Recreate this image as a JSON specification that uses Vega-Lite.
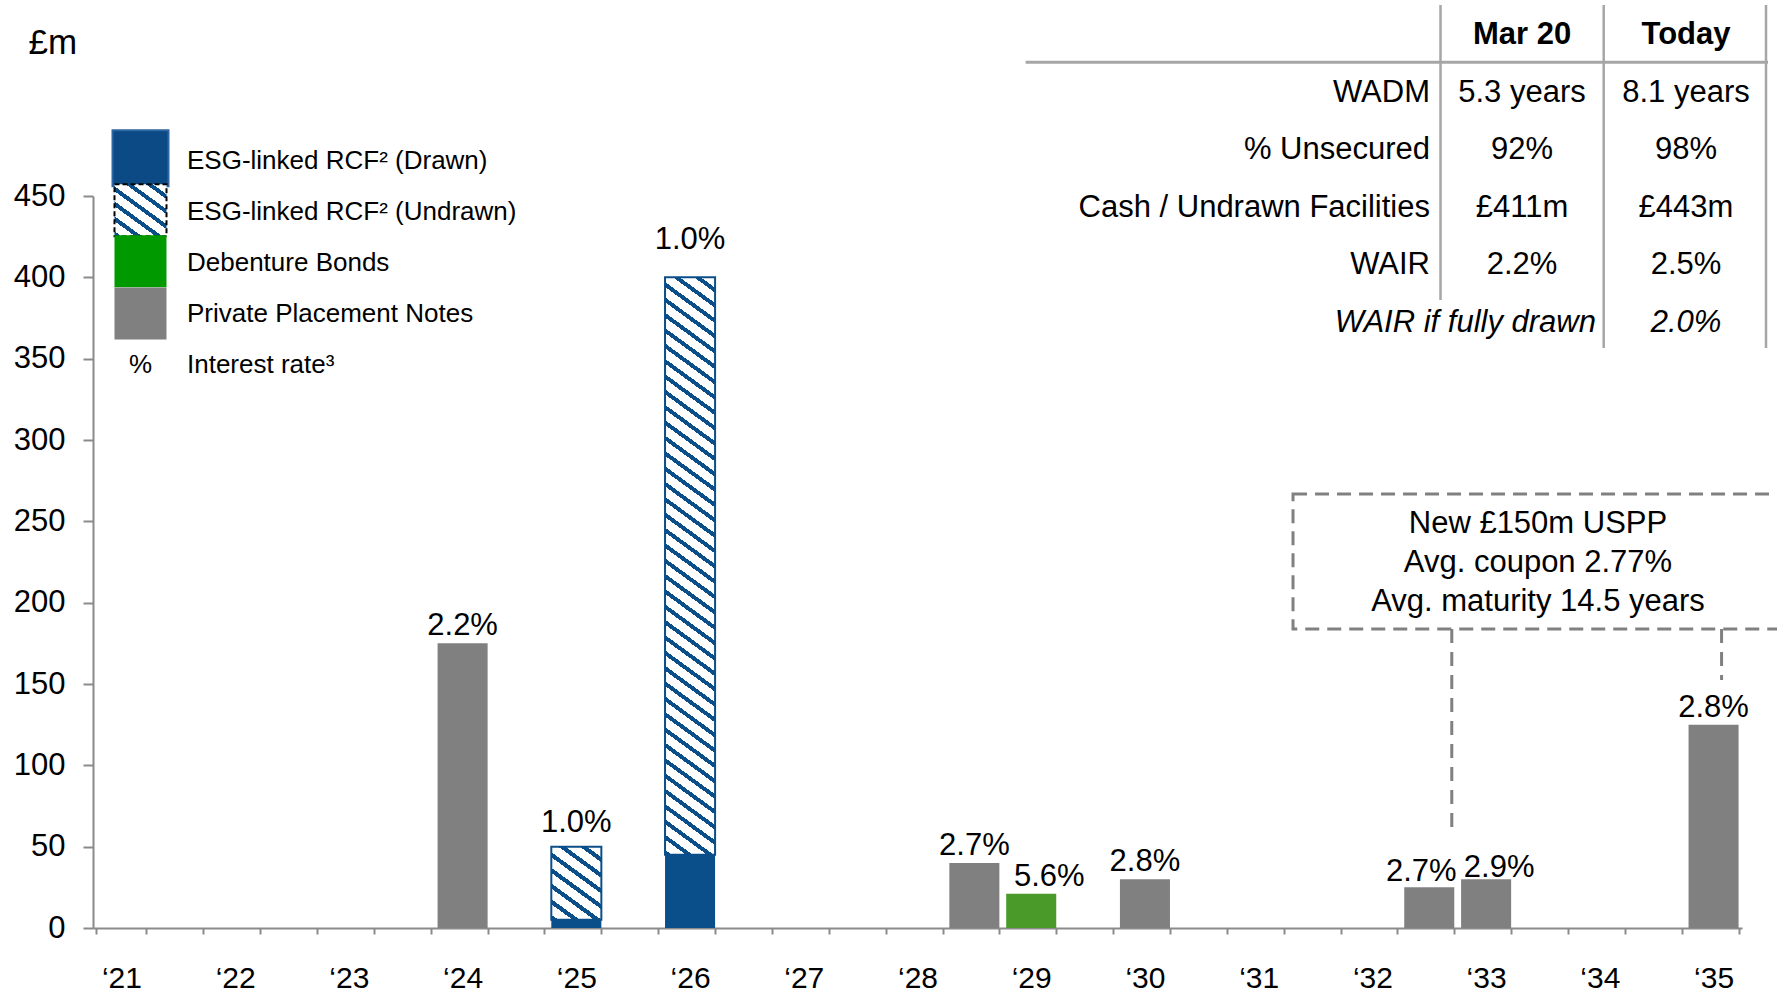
{
"$schema": "https://vega.github.io/schema/vega-lite/v6.json",
"width": 1649,
"height": 732,
"autosize": {"type": "none"},
"padding": {"left": 93, "top": 196, "right": 35, "bottom": 66},
"background": "#ffffff",
"config": {"view": {"stroke": null}, "font": "Liberation Sans", "axis": {"grid": false}},
"datasets": {
"bars": [
{"period": "2024-1", "series": "Private Placement Notes", "amount": 175, "rate": "2.2%"},
{"period": "2025-1", "series": "ESG-linked RCF² (Drawn)", "amount": 5, "rate": "1.0%"},
{"period": "2025-1", "series": "ESG-linked RCF² (Undrawn)", "amount": 45, "rate": "1.0%"},
{"period": "2026-1", "series": "ESG-linked RCF² (Drawn)", "amount": 45, "rate": "1.0%"},
{"period": "2026-1", "series": "ESG-linked RCF² (Undrawn)", "amount": 355, "rate": "1.0%"},
{"period": "2028-2", "series": "Private Placement Notes", "amount": 40, "rate": "2.7%"},
{"period": "2029-1", "series": "Debenture Bonds", "amount": 21, "rate": "5.6%"},
{"period": "2030-1", "series": "Private Placement Notes", "amount": 30, "rate": "2.8%"},
{"period": "2032-2", "series": "Private Placement Notes", "amount": 25, "rate": "2.7%"},
{"period": "2033-1", "series": "Private Placement Notes", "amount": 30, "rate": "2.9%"},
{"period": "2035-1", "series": "Private Placement Notes", "amount": 125, "rate": "2.8%"}
]
},
"layer": [
{
"data": {"name": "bars"},
"transform": [{"filter": "datum.series !== 'ESG-linked RCF² (Undrawn)'"}],
"mark": {"type": "bar"},
"encoding": {
"x": {"field": "period", "type": "ordinal",
"scale": {"domain": ["2021-1","2021-2","2022-1","2022-2","2023-1","2023-2","2024-1","2024-2","2025-1","2025-2","2026-1","2026-2","2027-1","2027-2","2028-1","2028-2","2029-1","2029-2","2030-1","2030-2","2031-1","2031-2","2032-1","2032-2","2033-1","2033-2","2034-1","2034-2","2035-1"], "paddingInner": 0.12, "paddingOuter": 0.06},
"axis": {"title": null, "labelExpr": "isString(datum.value) && slice(datum.value, 5) === '1' ? '‘' + slice(datum.value, 2, 4) : ''", "tickBand": "extent", "labelAngle": 0, "labelFont": "Liberation Sans", "labelFontSize": 30, "labelColor": "#000000", "labelPadding": 29, "tickSize": 6, "tickColor": "#8A8A8A", "tickWidth": 2, "domainColor": "#8A8A8A", "domainWidth": 2, "labelOverlap": false, "grid": false}},
"y": {"field": "amount", "type": "quantitative", "stack": null,
"scale": {"domain": [0, 450], "nice": false, "zero": true},
"axis": {"title": "£m", "titleAngle": 0, "titleAlign": "left", "titleBaseline": "middle", "titleX": -65, "titleY": -154, "titleFont": "Liberation Sans", "titleFontSize": 35, "titleFontWeight": "normal", "titleColor": "#000000", "values": [0, 50, 100, 150, 200, 250, 300, 350, 400, 450], "labelFont": "Liberation Sans", "labelFontSize": 31, "labelColor": "#000000", "labelPadding": 18, "tickSize": 10, "tickColor": "#8A8A8A", "tickWidth": 2, "domainColor": "#8A8A8A", "domainWidth": 2, "grid": false}},
"color": {"field": "series", "type": "nominal",
"scale": {"domain": ["ESG-linked RCF² (Drawn)", "ESG-linked RCF² (Undrawn)", "Debenture Bonds", "Private Placement Notes"], "range": ["#0B4F8A", "#FFFFFF", "#4A9A2A", "#808080"]},
"legend": null}
}
},
{
"data": {"name": "bars"},
"transform": [
{"stack": "amount", "groupby": ["period"], "sort": [{"field": "series", "order": "ascending"}], "as": ["s0", "s1"]},
{"filter": "datum.series === 'ESG-linked RCF² (Undrawn)' && datum.period === '2025-1'"}
],
"mark": {"type": "bar", "stroke": "#0B4F8A", "strokeWidth": 2,
"fill": {"gradient": "linear", "x1": 0, "y1": 1, "x2": 0.598, "y2": -0.2, "stops": [
{"offset": 0, "color": "#0B4F8A"}, {"offset": 0.047, "color": "#0B4F8A"}, {"offset": 0.047, "color": "#FFFFFF"}, {"offset": 0.143, "color": "#FFFFFF"},
{"offset": 0.143, "color": "#0B4F8A"}, {"offset": 0.19, "color": "#0B4F8A"}, {"offset": 0.19, "color": "#FFFFFF"}, {"offset": 0.286, "color": "#FFFFFF"},
{"offset": 0.286, "color": "#0B4F8A"}, {"offset": 0.333, "color": "#0B4F8A"}, {"offset": 0.333, "color": "#FFFFFF"}, {"offset": 0.429, "color": "#FFFFFF"},
{"offset": 0.429, "color": "#0B4F8A"}, {"offset": 0.476, "color": "#0B4F8A"}, {"offset": 0.476, "color": "#FFFFFF"}, {"offset": 0.571, "color": "#FFFFFF"},
{"offset": 0.571, "color": "#0B4F8A"}, {"offset": 0.618, "color": "#0B4F8A"}, {"offset": 0.618, "color": "#FFFFFF"}, {"offset": 0.714, "color": "#FFFFFF"},
{"offset": 0.714, "color": "#0B4F8A"}, {"offset": 0.761, "color": "#0B4F8A"}, {"offset": 0.761, "color": "#FFFFFF"}, {"offset": 0.857, "color": "#FFFFFF"},
{"offset": 0.857, "color": "#0B4F8A"}, {"offset": 0.904, "color": "#0B4F8A"}, {"offset": 0.904, "color": "#FFFFFF"}, {"offset": 1, "color": "#FFFFFF"}
]}},
"encoding": {
"x": {"field": "period", "type": "ordinal"},
"y": {"field": "s1", "type": "quantitative"},
"y2": {"field": "s0"}
}
},
{
"data": {"name": "bars"},
"transform": [
{"stack": "amount", "groupby": ["period"], "sort": [{"field": "series", "order": "ascending"}], "as": ["s0", "s1"]},
{"filter": "datum.series === 'ESG-linked RCF² (Undrawn)' && datum.period === '2026-1'"}
],
"mark": {"type": "bar", "stroke": "#0B4F8A", "strokeWidth": 2,
"fill": {"gradient": "linear", "x1": 0, "y1": 1, "x2": 0.0669, "y2": -0.059, "stops": [
{"offset": 0, "color": "#0B4F8A"}, {"offset": 0.008, "color": "#0B4F8A"}, {"offset": 0.008, "color": "#FFFFFF"}, {"offset": 0.025, "color": "#FFFFFF"},
{"offset": 0.025, "color": "#0B4F8A"}, {"offset": 0.033, "color": "#0B4F8A"}, {"offset": 0.033, "color": "#FFFFFF"}, {"offset": 0.05, "color": "#FFFFFF"},
{"offset": 0.05, "color": "#0B4F8A"}, {"offset": 0.058, "color": "#0B4F8A"}, {"offset": 0.058, "color": "#FFFFFF"}, {"offset": 0.075, "color": "#FFFFFF"},
{"offset": 0.075, "color": "#0B4F8A"}, {"offset": 0.083, "color": "#0B4F8A"}, {"offset": 0.083, "color": "#FFFFFF"}, {"offset": 0.1, "color": "#FFFFFF"},
{"offset": 0.1, "color": "#0B4F8A"}, {"offset": 0.108, "color": "#0B4F8A"}, {"offset": 0.108, "color": "#FFFFFF"}, {"offset": 0.125, "color": "#FFFFFF"},
{"offset": 0.125, "color": "#0B4F8A"}, {"offset": 0.133, "color": "#0B4F8A"}, {"offset": 0.133, "color": "#FFFFFF"}, {"offset": 0.15, "color": "#FFFFFF"},
{"offset": 0.15, "color": "#0B4F8A"}, {"offset": 0.158, "color": "#0B4F8A"}, {"offset": 0.158, "color": "#FFFFFF"}, {"offset": 0.175, "color": "#FFFFFF"},
{"offset": 0.175, "color": "#0B4F8A"}, {"offset": 0.183, "color": "#0B4F8A"}, {"offset": 0.183, "color": "#FFFFFF"}, {"offset": 0.2, "color": "#FFFFFF"},
{"offset": 0.2, "color": "#0B4F8A"}, {"offset": 0.208, "color": "#0B4F8A"}, {"offset": 0.208, "color": "#FFFFFF"}, {"offset": 0.225, "color": "#FFFFFF"},
{"offset": 0.225, "color": "#0B4F8A"}, {"offset": 0.233, "color": "#0B4F8A"}, {"offset": 0.233, "color": "#FFFFFF"}, {"offset": 0.25, "color": "#FFFFFF"},
{"offset": 0.25, "color": "#0B4F8A"}, {"offset": 0.258, "color": "#0B4F8A"}, {"offset": 0.258, "color": "#FFFFFF"}, {"offset": 0.275, "color": "#FFFFFF"},
{"offset": 0.275, "color": "#0B4F8A"}, {"offset": 0.283, "color": "#0B4F8A"}, {"offset": 0.283, "color": "#FFFFFF"}, {"offset": 0.3, "color": "#FFFFFF"},
{"offset": 0.3, "color": "#0B4F8A"}, {"offset": 0.308, "color": "#0B4F8A"}, {"offset": 0.308, "color": "#FFFFFF"}, {"offset": 0.325, "color": "#FFFFFF"},
{"offset": 0.325, "color": "#0B4F8A"}, {"offset": 0.333, "color": "#0B4F8A"}, {"offset": 0.333, "color": "#FFFFFF"}, {"offset": 0.35, "color": "#FFFFFF"},
{"offset": 0.35, "color": "#0B4F8A"}, {"offset": 0.358, "color": "#0B4F8A"}, {"offset": 0.358, "color": "#FFFFFF"}, {"offset": 0.375, "color": "#FFFFFF"},
{"offset": 0.375, "color": "#0B4F8A"}, {"offset": 0.383, "color": "#0B4F8A"}, {"offset": 0.383, "color": "#FFFFFF"}, {"offset": 0.4, "color": "#FFFFFF"},
{"offset": 0.4, "color": "#0B4F8A"}, {"offset": 0.408, "color": "#0B4F8A"}, {"offset": 0.408, "color": "#FFFFFF"}, {"offset": 0.425, "color": "#FFFFFF"},
{"offset": 0.425, "color": "#0B4F8A"}, {"offset": 0.433, "color": "#0B4F8A"}, {"offset": 0.433, "color": "#FFFFFF"}, {"offset": 0.45, "color": "#FFFFFF"},
{"offset": 0.45, "color": "#0B4F8A"}, {"offset": 0.458, "color": "#0B4F8A"}, {"offset": 0.458, "color": "#FFFFFF"}, {"offset": 0.475, "color": "#FFFFFF"},
{"offset": 0.475, "color": "#0B4F8A"}, {"offset": 0.483, "color": "#0B4F8A"}, {"offset": 0.483, "color": "#FFFFFF"}, {"offset": 0.5, "color": "#FFFFFF"},
{"offset": 0.5, "color": "#0B4F8A"}, {"offset": 0.508, "color": "#0B4F8A"}, {"offset": 0.508, "color": "#FFFFFF"}, {"offset": 0.525, "color": "#FFFFFF"},
{"offset": 0.525, "color": "#0B4F8A"}, {"offset": 0.533, "color": "#0B4F8A"}, {"offset": 0.533, "color": "#FFFFFF"}, {"offset": 0.55, "color": "#FFFFFF"},
{"offset": 0.55, "color": "#0B4F8A"}, {"offset": 0.558, "color": "#0B4F8A"}, {"offset": 0.558, "color": "#FFFFFF"}, {"offset": 0.575, "color": "#FFFFFF"},
{"offset": 0.575, "color": "#0B4F8A"}, {"offset": 0.583, "color": "#0B4F8A"}, {"offset": 0.583, "color": "#FFFFFF"}, {"offset": 0.6, "color": "#FFFFFF"},
{"offset": 0.6, "color": "#0B4F8A"}, {"offset": 0.608, "color": "#0B4F8A"}, {"offset": 0.608, "color": "#FFFFFF"}, {"offset": 0.625, "color": "#FFFFFF"},
{"offset": 0.625, "color": "#0B4F8A"}, {"offset": 0.633, "color": "#0B4F8A"}, {"offset": 0.633, "color": "#FFFFFF"}, {"offset": 0.65, "color": "#FFFFFF"},
{"offset": 0.65, "color": "#0B4F8A"}, {"offset": 0.658, "color": "#0B4F8A"}, {"offset": 0.658, "color": "#FFFFFF"}, {"offset": 0.675, "color": "#FFFFFF"},
{"offset": 0.675, "color": "#0B4F8A"}, {"offset": 0.683, "color": "#0B4F8A"}, {"offset": 0.683, "color": "#FFFFFF"}, {"offset": 0.7, "color": "#FFFFFF"},
{"offset": 0.7, "color": "#0B4F8A"}, {"offset": 0.708, "color": "#0B4F8A"}, {"offset": 0.708, "color": "#FFFFFF"}, {"offset": 0.725, "color": "#FFFFFF"},
{"offset": 0.725, "color": "#0B4F8A"}, {"offset": 0.733, "color": "#0B4F8A"}, {"offset": 0.733, "color": "#FFFFFF"}, {"offset": 0.75, "color": "#FFFFFF"},
{"offset": 0.75, "color": "#0B4F8A"}, {"offset": 0.758, "color": "#0B4F8A"}, {"offset": 0.758, "color": "#FFFFFF"}, {"offset": 0.775, "color": "#FFFFFF"},
{"offset": 0.775, "color": "#0B4F8A"}, {"offset": 0.783, "color": "#0B4F8A"}, {"offset": 0.783, "color": "#FFFFFF"}, {"offset": 0.8, "color": "#FFFFFF"},
{"offset": 0.8, "color": "#0B4F8A"}, {"offset": 0.808, "color": "#0B4F8A"}, {"offset": 0.808, "color": "#FFFFFF"}, {"offset": 0.825, "color": "#FFFFFF"},
{"offset": 0.825, "color": "#0B4F8A"}, {"offset": 0.833, "color": "#0B4F8A"}, {"offset": 0.833, "color": "#FFFFFF"}, {"offset": 0.85, "color": "#FFFFFF"},
{"offset": 0.85, "color": "#0B4F8A"}, {"offset": 0.858, "color": "#0B4F8A"}, {"offset": 0.858, "color": "#FFFFFF"}, {"offset": 0.875, "color": "#FFFFFF"},
{"offset": 0.875, "color": "#0B4F8A"}, {"offset": 0.883, "color": "#0B4F8A"}, {"offset": 0.883, "color": "#FFFFFF"}, {"offset": 0.9, "color": "#FFFFFF"},
{"offset": 0.9, "color": "#0B4F8A"}, {"offset": 0.908, "color": "#0B4F8A"}, {"offset": 0.908, "color": "#FFFFFF"}, {"offset": 0.925, "color": "#FFFFFF"},
{"offset": 0.925, "color": "#0B4F8A"}, {"offset": 0.933, "color": "#0B4F8A"}, {"offset": 0.933, "color": "#FFFFFF"}, {"offset": 0.95, "color": "#FFFFFF"},
{"offset": 0.95, "color": "#0B4F8A"}, {"offset": 0.958, "color": "#0B4F8A"}, {"offset": 0.958, "color": "#FFFFFF"}, {"offset": 0.975, "color": "#FFFFFF"},
{"offset": 0.975, "color": "#0B4F8A"}, {"offset": 0.983, "color": "#0B4F8A"}, {"offset": 0.983, "color": "#FFFFFF"}, {"offset": 1, "color": "#FFFFFF"}
]}},
"encoding": {
"x": {"field": "period", "type": "ordinal"},
"y": {"field": "s1", "type": "quantitative"},
"y2": {"field": "s0"}
}
},
{
"data": {"name": "bars"},
"transform": [
{"aggregate": [{"op": "sum", "field": "amount", "as": "total"}], "groupby": ["period", "rate"]},
{"filter": "datum.period !== '2025-1' && datum.period !== '2026-1' && datum.period !== '2029-1' && datum.period !== '2032-2' && datum.period !== '2033-1'"}
],
"mark": {"type": "text", "font": "Liberation Sans", "fontSize": 31, "color": "#000000", "align": "center", "baseline": "alphabetic", "dy": -8},
"encoding": {"x": {"field": "period", "type": "ordinal"}, "y": {"field": "total", "type": "quantitative"}, "text": {"field": "rate", "type": "nominal"}}
},
{
"data": {"name": "bars"},
"transform": [
{"aggregate": [{"op": "sum", "field": "amount", "as": "total"}], "groupby": ["period", "rate"]},
{"filter": "datum.period === '2026-1'"}
],
"mark": {"type": "text", "font": "Liberation Sans", "fontSize": 31, "color": "#000000", "align": "center", "baseline": "alphabetic", "dy": -28},
"encoding": {"x": {"field": "period", "type": "ordinal"}, "y": {"field": "total", "type": "quantitative"}, "text": {"field": "rate", "type": "nominal"}}
},
{
"data": {"name": "bars"},
"transform": [
{"aggregate": [{"op": "sum", "field": "amount", "as": "total"}], "groupby": ["period", "rate"]},
{"filter": "datum.period === '2025-1'"}
],
"mark": {"type": "text", "font": "Liberation Sans", "fontSize": 31, "color": "#000000", "align": "center", "baseline": "alphabetic", "dy": -15},
"encoding": {"x": {"field": "period", "type": "ordinal"}, "y": {"field": "total", "type": "quantitative"}, "text": {"field": "rate", "type": "nominal"}}
},
{
"data": {"name": "bars"},
"transform": [
{"aggregate": [{"op": "sum", "field": "amount", "as": "total"}], "groupby": ["period", "rate"]},
{"filter": "datum.period === '2029-1'"}
],
"mark": {"type": "text", "font": "Liberation Sans", "fontSize": 31, "color": "#000000", "align": "center", "baseline": "alphabetic", "dx": 18, "dy": -8},
"encoding": {"x": {"field": "period", "type": "ordinal"}, "y": {"field": "total", "type": "quantitative"}, "text": {"field": "rate", "type": "nominal"}}
},
{
"data": {"name": "bars"},
"transform": [
{"aggregate": [{"op": "sum", "field": "amount", "as": "total"}], "groupby": ["period", "rate"]},
{"filter": "datum.period === '2032-2'"}
],
"mark": {"type": "text", "font": "Liberation Sans", "fontSize": 31, "color": "#000000", "align": "center", "baseline": "alphabetic", "dx": -8, "dy": -6},
"encoding": {"x": {"field": "period", "type": "ordinal"}, "y": {"field": "total", "type": "quantitative"}, "text": {"field": "rate", "type": "nominal"}}
},
{
"data": {"name": "bars"},
"transform": [
{"aggregate": [{"op": "sum", "field": "amount", "as": "total"}], "groupby": ["period", "rate"]},
{"filter": "datum.period === '2033-1'"}
],
"mark": {"type": "text", "font": "Liberation Sans", "fontSize": 31, "color": "#000000", "align": "center", "baseline": "alphabetic", "dx": 13, "dy": -2},
"encoding": {"x": {"field": "period", "type": "ordinal"}, "y": {"field": "total", "type": "quantitative"}, "text": {"field": "rate", "type": "nominal"}}
},
{
"data": {"values": [{}]},
"mark": {"type": "rect", "filled": false, "stroke": "#808080", "strokeWidth": 3, "strokeDash": [14, 8]},
"encoding": {
"x": {"datum": "2031-2", "type": "ordinal", "bandPosition": 0.05},
"x2": {"datum": "2035-1", "bandPosition": 2},
"y": {"datum": 266.8, "type": "quantitative"},
"y2": {"datum": 183.8}
}
},
{
"data": {"values": [{}]},
"mark": {"type": "rule", "stroke": "#808080", "strokeWidth": 3, "strokeDash": [14, 9]},
"encoding": {
"x": {"datum": "2032-2", "type": "ordinal", "bandPosition": 0.95},
"y": {"datum": 183.8, "type": "quantitative"},
"y2": {"datum": 58.4}
}
},
{
"data": {"values": [{}]},
"mark": {"type": "rule", "stroke": "#808080", "strokeWidth": 3, "strokeDash": [14, 9]},
"encoding": {
"x": {"datum": "2035-1", "type": "ordinal", "bandPosition": 0.66},
"y": {"datum": 183.8, "type": "quantitative"},
"y2": {"datum": 152.5}
}
},
{
"data": {"values": [{}]},
"mark": {"type": "text", "text": "New £150m USPP", "font": "Liberation Sans", "fontSize": 31, "color": "#000000", "align": "center", "baseline": "middle"},
"encoding": {"x": {"datum": "2033-2", "type": "ordinal", "bandPosition": 0.4}, "y": {"datum": 248.4, "type": "quantitative"}}
},
{
"data": {"values": [{}]},
"mark": {"type": "text", "text": "Avg. coupon 2.77%", "font": "Liberation Sans", "fontSize": 31, "color": "#000000", "align": "center", "baseline": "middle"},
"encoding": {"x": {"datum": "2033-2", "type": "ordinal", "bandPosition": 0.4}, "y": {"datum": 224.4, "type": "quantitative"}}
},
{
"data": {"values": [{}]},
"mark": {"type": "text", "text": "Avg. maturity 14.5 years", "font": "Liberation Sans", "fontSize": 31, "color": "#000000", "align": "center", "baseline": "middle"},
"encoding": {"x": {"datum": "2033-2", "type": "ordinal", "bandPosition": 0.4}, "y": {"datum": 200.4, "type": "quantitative"}}
},
{
"data": {"values": [{}]},
"mark": {"type": "rule", "stroke": "#A6A6A6", "strokeWidth": 3},
"encoding": {
"x": {"datum": "2029-1", "type": "ordinal", "bandPosition": 0.388},
"x2": {"datum": "2035-1", "bandPosition": 1.588},
"y": {"datum": 532.2, "type": "quantitative"}
}
},
{
"data": {"values": [{}]},
"mark": {"type": "rule", "stroke": "#A6A6A6", "strokeWidth": 2.5},
"encoding": {
"x": {"datum": "2032-2", "type": "ordinal", "bandPosition": 0.7246},
"y": {"datum": 567.4, "type": "quantitative"},
"y2": {"datum": 386.1}
}
},
{
"data": {"values": [{}]},
"mark": {"type": "rule", "stroke": "#A6A6A6", "strokeWidth": 2.5},
"encoding": {
"x": {"datum": "2034-1", "type": "ordinal", "bandPosition": 0.577},
"y": {"datum": 567.4, "type": "quantitative"},
"y2": {"datum": 356.5}
}
},
{
"data": {"values": [{}]},
"mark": {"type": "rule", "stroke": "#A6A6A6", "strokeWidth": 2.5},
"encoding": {
"x": {"datum": "2035-1", "type": "ordinal", "bandPosition": 1.548},
"y": {"datum": 567.4, "type": "quantitative"},
"y2": {"datum": 356.5}
}
},
{
"data": {"values": [{}]},
"mark": {"type": "text", "text": "Mar 20", "font": "Liberation Sans", "fontSize": 31, "fontWeight": "bold", "color": "#000000", "align": "center", "baseline": "middle"},
"encoding": {"x": {"datum": "2033-2", "type": "ordinal", "bandPosition": 0.081}, "y": {"datum": 548.9, "type": "quantitative"}}
},
{
"data": {"values": [{}]},
"mark": {"type": "text", "text": "Today", "font": "Liberation Sans", "fontSize": 31, "fontWeight": "bold", "color": "#000000", "align": "center", "baseline": "middle"},
"encoding": {"x": {"datum": "2034-2", "type": "ordinal", "bandPosition": 1.0855}, "y": {"datum": 548.9, "type": "quantitative"}}
},
{
"data": {"values": [{}]},
"mark": {"type": "text", "text": "WADM", "font": "Liberation Sans", "fontSize": 31, "color": "#000000", "align": "right", "baseline": "middle"},
"encoding": {"x": {"datum": "2032-2", "type": "ordinal", "bandPosition": 0.515}, "y": {"datum": 513.5, "type": "quantitative"}}
},
{
"data": {"values": [{}]},
"mark": {"type": "text", "text": "% Unsecured", "font": "Liberation Sans", "fontSize": 31, "color": "#000000", "align": "right", "baseline": "middle"},
"encoding": {"x": {"datum": "2032-2", "type": "ordinal", "bandPosition": 0.515}, "y": {"datum": 478.1, "type": "quantitative"}}
},
{
"data": {"values": [{}]},
"mark": {"type": "text", "text": "Cash / Undrawn Facilities", "font": "Liberation Sans", "fontSize": 31, "color": "#000000", "align": "right", "baseline": "middle"},
"encoding": {"x": {"datum": "2032-2", "type": "ordinal", "bandPosition": 0.515}, "y": {"datum": 442.7, "type": "quantitative"}}
},
{
"data": {"values": [{}]},
"mark": {"type": "text", "text": "WAIR", "font": "Liberation Sans", "fontSize": 31, "color": "#000000", "align": "right", "baseline": "middle"},
"encoding": {"x": {"datum": "2032-2", "type": "ordinal", "bandPosition": 0.515}, "y": {"datum": 407.3, "type": "quantitative"}}
},
{
"data": {"values": [{}]},
"mark": {"type": "text", "text": "5.3 years", "font": "Liberation Sans", "fontSize": 31, "color": "#000000", "align": "center", "baseline": "middle"},
"encoding": {"x": {"datum": "2033-2", "type": "ordinal", "bandPosition": 0.081}, "y": {"datum": 513.5, "type": "quantitative"}}
},
{
"data": {"values": [{}]},
"mark": {"type": "text", "text": "92%", "font": "Liberation Sans", "fontSize": 31, "color": "#000000", "align": "center", "baseline": "middle"},
"encoding": {"x": {"datum": "2033-2", "type": "ordinal", "bandPosition": 0.081}, "y": {"datum": 478.1, "type": "quantitative"}}
},
{
"data": {"values": [{}]},
"mark": {"type": "text", "text": "£411m", "font": "Liberation Sans", "fontSize": 31, "color": "#000000", "align": "center", "baseline": "middle"},
"encoding": {"x": {"datum": "2033-2", "type": "ordinal", "bandPosition": 0.081}, "y": {"datum": 442.7, "type": "quantitative"}}
},
{
"data": {"values": [{}]},
"mark": {"type": "text", "text": "2.2%", "font": "Liberation Sans", "fontSize": 31, "color": "#000000", "align": "center", "baseline": "middle"},
"encoding": {"x": {"datum": "2033-2", "type": "ordinal", "bandPosition": 0.081}, "y": {"datum": 407.3, "type": "quantitative"}}
},
{
"data": {"values": [{}]},
"mark": {"type": "text", "text": "8.1 years", "font": "Liberation Sans", "fontSize": 31, "color": "#000000", "align": "center", "baseline": "middle"},
"encoding": {"x": {"datum": "2034-2", "type": "ordinal", "bandPosition": 1.0855}, "y": {"datum": 513.5, "type": "quantitative"}}
},
{
"data": {"values": [{}]},
"mark": {"type": "text", "text": "98%", "font": "Liberation Sans", "fontSize": 31, "color": "#000000", "align": "center", "baseline": "middle"},
"encoding": {"x": {"datum": "2034-2", "type": "ordinal", "bandPosition": 1.0855}, "y": {"datum": 478.1, "type": "quantitative"}}
},
{
"data": {"values": [{}]},
"mark": {"type": "text", "text": "£443m", "font": "Liberation Sans", "fontSize": 31, "color": "#000000", "align": "center", "baseline": "middle"},
"encoding": {"x": {"datum": "2034-2", "type": "ordinal", "bandPosition": 1.0855}, "y": {"datum": 442.7, "type": "quantitative"}}
},
{
"data": {"values": [{}]},
"mark": {"type": "text", "text": "2.5%", "font": "Liberation Sans", "fontSize": 31, "color": "#000000", "align": "center", "baseline": "middle"},
"encoding": {"x": {"datum": "2034-2", "type": "ordinal", "bandPosition": 1.0855}, "y": {"datum": 407.3, "type": "quantitative"}}
},
{
"data": {"values": [{}]},
"mark": {"type": "text", "text": "WAIR if fully drawn", "font": "Liberation Sans", "fontSize": 31, "fontStyle": "italic", "color": "#000000", "align": "right", "baseline": "middle"},
"encoding": {"x": {"datum": "2034-1", "type": "ordinal", "bandPosition": 0.423}, "y": {"datum": 371.9, "type": "quantitative"}}
},
{
"data": {"values": [{}]},
"mark": {"type": "text", "text": "2.0%", "font": "Liberation Sans", "fontSize": 31, "fontStyle": "italic", "color": "#000000", "align": "center", "baseline": "middle"},
"encoding": {"x": {"datum": "2034-2", "type": "ordinal", "bandPosition": 1.0855}, "y": {"datum": 371.9, "type": "quantitative"}}
},
{
"data": {"values": [{}]},
"mark": {"type": "square", "size": 3136, "fill": "#0B4A84", "stroke": "#2E66A3", "strokeWidth": 2, "opacity": 1},
"encoding": {"x": {"datum": "2021-1", "type": "ordinal", "bandPosition": 0.881}, "y": {"datum": 473.2, "type": "quantitative"}}
},
{
"data": {"values": [{}]},
"mark": {"type": "square", "size": 2704, "opacity": 1, "stroke": "#000000", "strokeWidth": 2, "strokeDash": [5, 3],
"fill": {"gradient": "linear", "x1": 0, "y1": 1, "x2": 0.823, "y2": -0.128, "stops": [
{"offset": 0, "color": "#0B4F8A"}, {"offset": 0.055, "color": "#0B4F8A"}, {"offset": 0.055, "color": "#FFFFFF"}, {"offset": 0.167, "color": "#FFFFFF"},
{"offset": 0.167, "color": "#0B4F8A"}, {"offset": 0.222, "color": "#0B4F8A"}, {"offset": 0.222, "color": "#FFFFFF"}, {"offset": 0.333, "color": "#FFFFFF"},
{"offset": 0.333, "color": "#0B4F8A"}, {"offset": 0.388, "color": "#0B4F8A"}, {"offset": 0.388, "color": "#FFFFFF"}, {"offset": 0.5, "color": "#FFFFFF"},
{"offset": 0.5, "color": "#0B4F8A"}, {"offset": 0.555, "color": "#0B4F8A"}, {"offset": 0.555, "color": "#FFFFFF"}, {"offset": 0.667, "color": "#FFFFFF"},
{"offset": 0.667, "color": "#0B4F8A"}, {"offset": 0.722, "color": "#0B4F8A"}, {"offset": 0.722, "color": "#FFFFFF"}, {"offset": 0.833, "color": "#FFFFFF"},
{"offset": 0.833, "color": "#0B4F8A"}, {"offset": 0.888, "color": "#0B4F8A"}, {"offset": 0.888, "color": "#FFFFFF"}, {"offset": 1, "color": "#FFFFFF"}
]}},
"encoding": {"x": {"datum": "2021-1", "type": "ordinal", "bandPosition": 0.881}, "y": {"datum": 441.3, "type": "quantitative"}}
},
{
"data": {"values": [{}]},
"mark": {"type": "square", "size": 2704, "fill": "#009A00", "opacity": 1},
"encoding": {"x": {"datum": "2021-1", "type": "ordinal", "bandPosition": 0.881}, "y": {"datum": 409.9, "type": "quantitative"}}
},
{
"data": {"values": [{}]},
"mark": {"type": "square", "size": 2704, "fill": "#808080", "opacity": 1},
"encoding": {"x": {"datum": "2021-1", "type": "ordinal", "bandPosition": 0.881}, "y": {"datum": 377.8, "type": "quantitative"}}
},
{
"data": {"values": [{}]},
"mark": {"type": "text", "text": "%", "font": "Liberation Sans", "fontSize": 26, "color": "#000000", "align": "center", "baseline": "middle"},
"encoding": {"x": {"datum": "2021-1", "type": "ordinal", "bandPosition": 0.881}, "y": {"datum": 346.1, "type": "quantitative"}}
},
{
"data": {"values": [{}]},
"mark": {"type": "text", "text": "ESG-linked RCF² (Drawn)", "font": "Liberation Sans", "fontSize": 26, "color": "#000000", "align": "left", "baseline": "middle"},
"encoding": {"x": {"datum": "2021-2", "type": "ordinal", "bandPosition": 0.674}, "y": {"datum": 471.6, "type": "quantitative"}}
},
{
"data": {"values": [{}]},
"mark": {"type": "text", "text": "ESG-linked RCF² (Undrawn)", "font": "Liberation Sans", "fontSize": 26, "color": "#000000", "align": "left", "baseline": "middle"},
"encoding": {"x": {"datum": "2021-2", "type": "ordinal", "bandPosition": 0.674}, "y": {"datum": 440.2, "type": "quantitative"}}
},
{
"data": {"values": [{}]},
"mark": {"type": "text", "text": "Debenture Bonds", "font": "Liberation Sans", "fontSize": 26, "color": "#000000", "align": "left", "baseline": "middle"},
"encoding": {"x": {"datum": "2021-2", "type": "ordinal", "bandPosition": 0.674}, "y": {"datum": 408.8, "type": "quantitative"}}
},
{
"data": {"values": [{}]},
"mark": {"type": "text", "text": "Private Placement Notes", "font": "Liberation Sans", "fontSize": 26, "color": "#000000", "align": "left", "baseline": "middle"},
"encoding": {"x": {"datum": "2021-2", "type": "ordinal", "bandPosition": 0.674}, "y": {"datum": 377.4, "type": "quantitative"}}
},
{
"data": {"values": [{}]},
"mark": {"type": "text", "text": "Interest rate³", "font": "Liberation Sans", "fontSize": 26, "color": "#000000", "align": "left", "baseline": "middle"},
"encoding": {"x": {"datum": "2021-2", "type": "ordinal", "bandPosition": 0.674}, "y": {"datum": 346.1, "type": "quantitative"}}
}
]
}
